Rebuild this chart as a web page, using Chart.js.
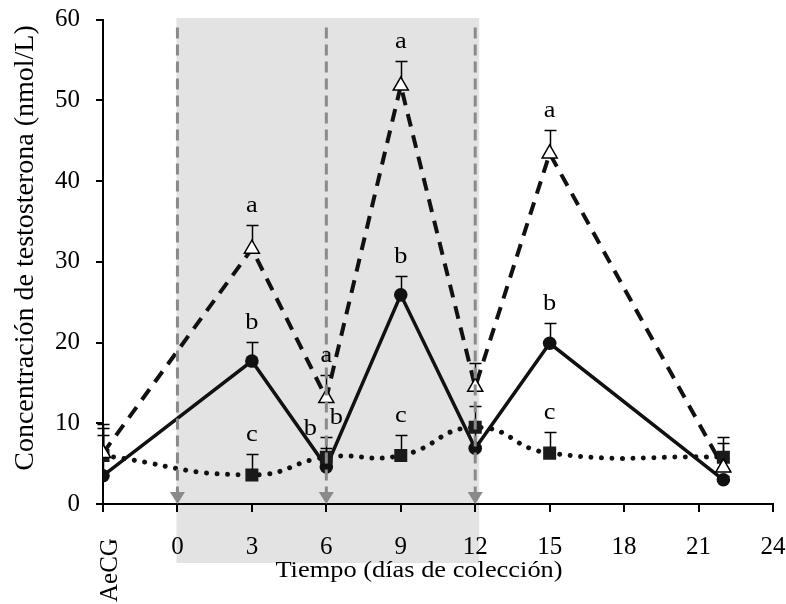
<!DOCTYPE html>
<html><head><meta charset="utf-8">
<script src="https://cdn.jsdelivr.net/npm/chart.js@4"></script>
<style>html,body{margin:0;padding:0;background:#fff}#wrap{width:786px;height:604px}</style>
</head><body><div id="wrap"><canvas id="c" width="786" height="604"></canvas></div>
<script>
// ---------- data ----------
const xDays = [-3, 3, 6, 9, 12, 15, 22];            // -3 is the "AeCG" sample
const tickValues = [-3, 0, 3, 6, 9, 12, 15, 18, 21, 24];
const tickLabels = ['AeCG', '0', '3', '6', '9', '12', '15', '18', '21', '24'];
const triangleValues = [6.3, 31.6, 13.1, 51.8, 14.5, 43.4, 4.5];
const triangleErrors = [3.6, 2.9, 2.9, 3.0, 3.0, 2.9, 3.8];
const triangleLetters = ['', 'a', 'a', 'a', '', 'a', ''];
const circleValues = [3.5, 17.7, 4.6, 25.9, 6.9, 19.9, 3.0];
const circleErrors = [5.0, 2.4, 2.3, 2.3, 2.3, 2.5, 0.5];
const circleLetters = ['', 'b', 'b', 'b', '', 'b', ''];
const squareValues = [6.0, 3.6, 5.8, 6.0, 9.5, 6.3, 5.8];
const squareErrors = [3.4, 2.6, 2.5, 2.5, 2.6, 2.6, 1.8];
const squareLetters = ['', 'c', 'b', 'c', '', 'c', ''];
const markerDays = [0, 6, 12];
const shadedPeriod = [0, 12];
const yTitle = 'Concentración de testosterona (nmol/L)';
const xTitle = 'Tiempo (días de colección)';

const FONT = '"Liberation Serif", "Times New Roman", serif';
const pts = vals => vals.map((v, i) => ({x: xDays[i], y: v}));

const shadePlugin = {
  id: 'shade',
  beforeDraw(chart) {
    const {ctx, chartArea, scales: {x}} = chart;
    const l = x.getPixelForValue(shadedPeriod[0]) - 1;
    const r = x.getPixelForValue(shadedPeriod[1]) + 4;
    ctx.save();
    ctx.fillStyle = '#e3e3e3';
    const t = chartArea.top - 1.5;
    ctx.fillRect(l, t, r - l, chartArea.bottom + 59 - t);
    ctx.restore();
  }
};

const errPlugin = {
  id: 'errbars',
  beforeDatasetsDraw(chart) {
    const {ctx, scales: {x, y}} = chart;
    ctx.save();
    ctx.strokeStyle = '#000';
    ctx.lineWidth = 1.5;
    chart.data.datasets.forEach(ds => {
      ds.data.forEach((p, j) => {
        const e = ds.errors[j];
        if (!e) return;
        const px = Math.round(x.getPixelForValue(p.x)) + 0.5;
        const y0 = y.getPixelForValue(p.y), y1 = Math.round(y.getPixelForValue(p.y + e)) + 0.5;
        ctx.beginPath();
        ctx.moveTo(px, y0); ctx.lineTo(px, y1);
        ctx.moveTo(px - 6, y1); ctx.lineTo(px + 6, y1);
        ctx.stroke();
      });
    });
    ctx.restore();
  }
};

const overlayPlugin = {
  id: 'overlay',
  afterDatasetsDraw(chart) {
    const {ctx, chartArea, scales: {x, y}} = chart;
    ctx.save();
    // vertical treatment markers
    markerDays.forEach(d => {
      const px = x.getPixelForValue(d);
      ctx.strokeStyle = '#8a8a8a';
      ctx.lineWidth = 3;
      ctx.setLineDash([11, 6]);
      ctx.beginPath();
      ctx.moveTo(px, chartArea.top + 8);
      ctx.lineTo(px, chartArea.bottom - 12);
      ctx.stroke();
      ctx.setLineDash([]);
      ctx.fillStyle = '#8a8a8a';
      ctx.beginPath();
      ctx.moveTo(px - 7.5, chartArea.bottom - 12);
      ctx.lineTo(px + 7.5, chartArea.bottom - 12);
      ctx.lineTo(px, chartArea.bottom);
      ctx.closePath();
      ctx.fill();
    });
    // significance letters
    ctx.fillStyle = '#000';
    ctx.font = '24px ' + FONT;
    ctx.textAlign = 'center';
    ctx.textBaseline = 'alphabetic';
    const dxMap = {'circle-6': -16, 'square-6': 10};
    chart.data.datasets.forEach(ds => {
      ds.data.forEach((p, j) => {
        const t = ds.letters[j];
        if (!t) return;
        const dx = dxMap[ds.key + '-' + p.x] || 0;
        const px = x.getPixelForValue(p.x) + dx;
        const py = y.getPixelForValue(p.y + ds.errors[j]) - 13;
        ctx.save();
        ctx.translate(px, py);
        ctx.scale(1.1, 1);
        ctx.fillText(t, 0, 0);
        ctx.restore();
      });
    });
    ctx.restore();
  },
  afterDraw(chart) {
    const {ctx, scales: {x}} = chart;
    ctx.save();
    ctx.fillStyle = '#000';
    // AeCG rotated tick label
    ctx.font = '25px ' + FONT;
    ctx.textAlign = 'left';
    ctx.textBaseline = 'alphabetic';
    ctx.translate(x.getPixelForValue(-3) + 14, 602);
    ctx.rotate(-Math.PI / 2);
    ctx.fillText(tickLabels[0], 0, 0);
    ctx.restore();
    // x title
    ctx.save();
    ctx.fillStyle = '#000';
    ctx.font = '24px ' + FONT;
    ctx.textAlign = 'center';
    ctx.textBaseline = 'alphabetic';
    ctx.translate(419, 577);
    ctx.scale(1.1, 1);
    ctx.fillText(xTitle, 0, 0);
    ctx.restore();
    // y title
    ctx.save();
    ctx.fillStyle = '#000';
    ctx.font = '28px ' + FONT;
    ctx.textAlign = 'center';
    ctx.textBaseline = 'alphabetic';
    ctx.translate(33, 248);
    ctx.rotate(-Math.PI / 2);
    ctx.fillText(yTitle, 0, 0);
    ctx.restore();
  }
};

new Chart(document.getElementById('c'), {
  type: 'line',
  data: {
    datasets: [
      {
        key: 'triangle', data: pts(triangleValues), errors: triangleErrors, letters: triangleLetters,
        borderColor: '#111', borderWidth: 4, borderDash: [13, 9], tension: 0,
        pointStyle: 'triangle', pointRadius: 8.7, pointBackgroundColor: '#fff',
        pointBorderColor: '#000', pointBorderWidth: 1.5
      },
      {
        key: 'square', data: pts(squareValues), errors: squareErrors, letters: squareLetters,
        borderColor: '#111', borderWidth: 5, borderDash: [0.01, 10.5], borderCapStyle: 'round',
        tension: 0.5,
        pointStyle: 'rect', pointRadius: 9.2, pointBackgroundColor: '#1a1a1a',
        pointBorderColor: '#1a1a1a', pointBorderWidth: 0
      },
      {
        key: 'circle', data: pts(circleValues), errors: circleErrors, letters: circleLetters,
        borderColor: '#111', borderWidth: 3.5, tension: 0,
        pointStyle: 'circle', pointRadius: 6.8, pointBackgroundColor: '#111',
        pointBorderColor: '#111', pointBorderWidth: 0
      }
    ]
  },
  options: {
    responsive: false,
    devicePixelRatio: 1,
    animation: false,
    layout: {padding: {top: 19.5, right: 13, left: 0, bottom: 0}},
    plugins: {legend: {display: false}, tooltip: {enabled: false}},
    scales: {
      x: {
        type: 'linear', min: -3, max: 24,
        afterBuildTicks: s => { s.ticks = tickValues.map(v => ({value: v})); },
        afterFit: s => { s.height = 100; s.paddingLeft = 0; s.paddingRight = 0; },
        ticks: {
          autoSkip: false, maxRotation: 0, minRotation: 0, padding: 20, color: '#000',
          font: {family: FONT, size: 25},
          callback: v => { const i = tickValues.indexOf(v); return i <= 0 ? '' : tickLabels[i]; }
        },
        grid: {drawOnChartArea: false, drawTicks: true, tickLength: 8, color: '#000', lineWidth: 2},
        border: {color: '#000', width: 2}
      },
      y: {
        min: 0, max: 60,
        afterFit: s => { s.width = 103; s.paddingTop = 0; s.paddingBottom = 0; },
        ticks: {stepSize: 10, padding: 16, color: '#000', font: {family: FONT, size: 25}},
        grid: {drawOnChartArea: false, drawTicks: true, tickLength: 7, color: '#000', lineWidth: 2},
        border: {color: '#000', width: 2}
      }
    }
  },
  plugins: [shadePlugin, errPlugin, overlayPlugin]
});
</script>
</body></html>
